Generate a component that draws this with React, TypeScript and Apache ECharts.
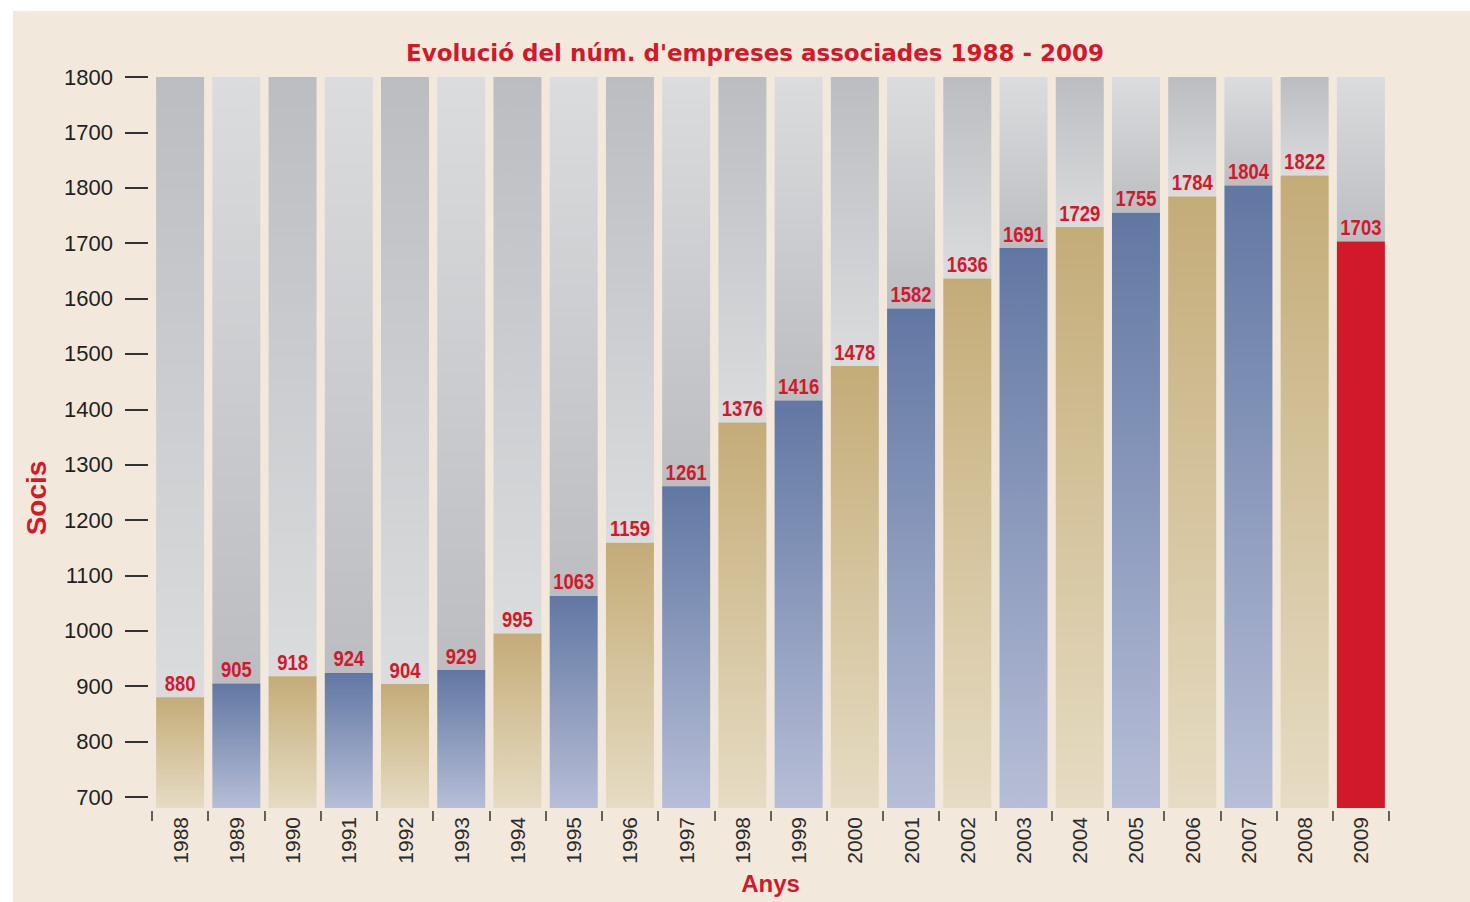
import React, { useEffect, useRef } from "react";
import * as echarts from "echarts";

const years = ["1988","1989","1990","1991","1992","1993","1994","1995","1996","1997","1998","1999","2000","2001","2002","2003","2004","2005","2006","2007","2008","2009"];
const socis = [880, 905, 918, 924, 904, 929, 995, 1063, 1159, 1261, 1376, 1416, 1478, 1582, 1636, 1691, 1729, 1755, 1784, 1804, 1822, 1703];
// tick labels as printed in the original (top two repeat 1800 / 1700)
const yTickValues = [700, 800, 900, 1000, 1100, 1200, 1300, 1400, 1500, 1600, 1700, 1800, 1900, 2000];
const yTickLabels = ["700", "800", "900", "1000", "1100", "1200", "1300", "1400", "1500", "1600", "1700", "1800", "1700", "1800"];

const AXIS_MIN = 680;
const AXIS_MAX = 2000;
const TICK_MIN = 700;

const TITLE = "Evolució del núm. d'empreses associades 1988 - 2009";
const RED = "#d2192b";
const SANS = "'Liberation Sans', Arial, sans-serif";
const WIDE = "'DejaVu Sans', Verdana, sans-serif";

const grad = (a: string, b: string) => ({
  type: "linear", x: 0, y: 0, x2: 0, y2: 1,
  colorStops: [{ offset: 0, color: a }, { offset: 1, color: b }],
});
const GOLD = grad("#c4ac78", "#e6dcc4");
const BLUE = grad("#6177a3", "#b7bed7");
const GRAY_DARK_TOP = grad("#bcbdc0", "#dbdcde");
const GRAY_LIGHT_TOP = grad("#dbdcde", "#bcbdc0");

export default function App() {
  const ref = useRef<HTMLDivElement>(null);
  useEffect(() => {
    if (!ref.current) return;
    const chart = echarts.init(ref.current, null, { renderer: "svg" });
    const last = socis.length - 1;
    const colored = socis.map((v, i) => ({
      value: v,
      itemStyle: { color: i === last ? "#d2192a" : i % 2 === 0 ? GOLD : BLUE },
    }));
    const rest = socis.map((v, i) => ({
      value: AXIS_MAX - v,
      itemStyle: { color: i % 2 === 0 ? GRAY_DARK_TOP : GRAY_LIGHT_TOP },
    }));
    chart.setOption({
      animation: false,
      title: {
        text: TITLE,
        left: 737,
        textAlign: "center",
        top: 25,
        textStyle: { color: RED, fontSize: 23, fontWeight: "bold", fontFamily: WIDE },
      },
      grid: [
        { left: 139, right: 81, top: 66, bottom: 94, outerBoundsMode: "none", containLabel: false },
        { left: 139, right: 81, top: 66, bottom: 105, outerBoundsMode: "none", containLabel: false },
      ],
      xAxis: [
        {
          gridIndex: 0,
          type: "category",
          data: years,
          offset: 3,
          axisLine: { show: false },
          axisTick: { show: true, length: 10, lineStyle: { color: "#333", width: 1.5 } },
          axisLabel: { rotate: 90, interval: 0, margin: 6, fontSize: 21, color: "#2b2b2b", fontFamily: SANS },
          name: "Anys",
          nameLocation: "middle",
          nameGap: 58,
          nameTextStyle: { color: RED, fontSize: 24, fontWeight: "bold", fontFamily: SANS },
        },
        { gridIndex: 1, type: "category", data: years, show: false },
      ],
      yAxis: [
        { gridIndex: 0, type: "value", min: AXIS_MIN, max: AXIS_MAX, show: false, splitLine: { show: false } },
        {
          gridIndex: 1,
          type: "value",
          min: TICK_MIN,
          max: AXIS_MAX,
          interval: 100,
          offset: 4,
          axisLine: { show: false },
          axisTick: { show: true, length: 23, lineStyle: { color: "#333", width: 2 } },
          splitLine: { show: false },
          axisLabel: {
            margin: 35,
            fontSize: 22,
            color: "#231f20",
            fontFamily: SANS,
            formatter: (v: number) => {
              const idx = yTickValues.indexOf(v);
              return idx >= 0 ? yTickLabels[idx] : "";
            },
          },
        },
      ],
      graphic: [
        {
          type: "text",
          x: 23,
          y: 487,
          rotation: Math.PI / 2,
          style: {
            text: "Socis",
            fill: RED,
            fontSize: 28,
            fontWeight: "bold",
            fontFamily: SANS,
            align: "center",
            verticalAlign: "middle",
          },
        },
      ],
      series: [
        {
          type: "bar",
          xAxisIndex: 0,
          yAxisIndex: 0,
          stack: "total",
          barWidth: 48,
          z: 3,
          data: colored,
        },
        {
          type: "bar",
          xAxisIndex: 0,
          yAxisIndex: 0,
          stack: "total",
          barWidth: 48,
          z: 2,
          data: rest,
          silent: true,
        },
        {
          type: "custom",
          xAxisIndex: 0,
          yAxisIndex: 0,
          z: 5,
          silent: true,
          data: socis.map((v, i) => [i, v]),
          encode: { x: 0, y: 1 },
          renderItem: (params: any, api: any) => {
            const p = api.coord([api.value(0), api.value(1)]);
            return {
              type: "text",
              x: p[0],
              y: p[1] - 3,
              scaleX: 0.84,
              style: {
                text: String(api.value(1)),
                fill: RED,
                fontSize: 22,
                fontWeight: "bold",
                fontFamily: SANS,
                align: "center",
                verticalAlign: "bottom",
              },
            };
          },
        },
        { type: "bar", xAxisIndex: 1, yAxisIndex: 1, data: [] },
      ],
    });
    return () => chart.dispose();
  }, []);
  return (
    <div style={{ position: "absolute", left: 0, top: 0, width: 1470, height: 902, background: "#ffffff" }}>
      <div
        ref={ref}
        style={{ position: "absolute", left: 13, top: 11, width: 1457, height: 891, background: "#f2e9dc" }}
      />
    </div>
  );
}
